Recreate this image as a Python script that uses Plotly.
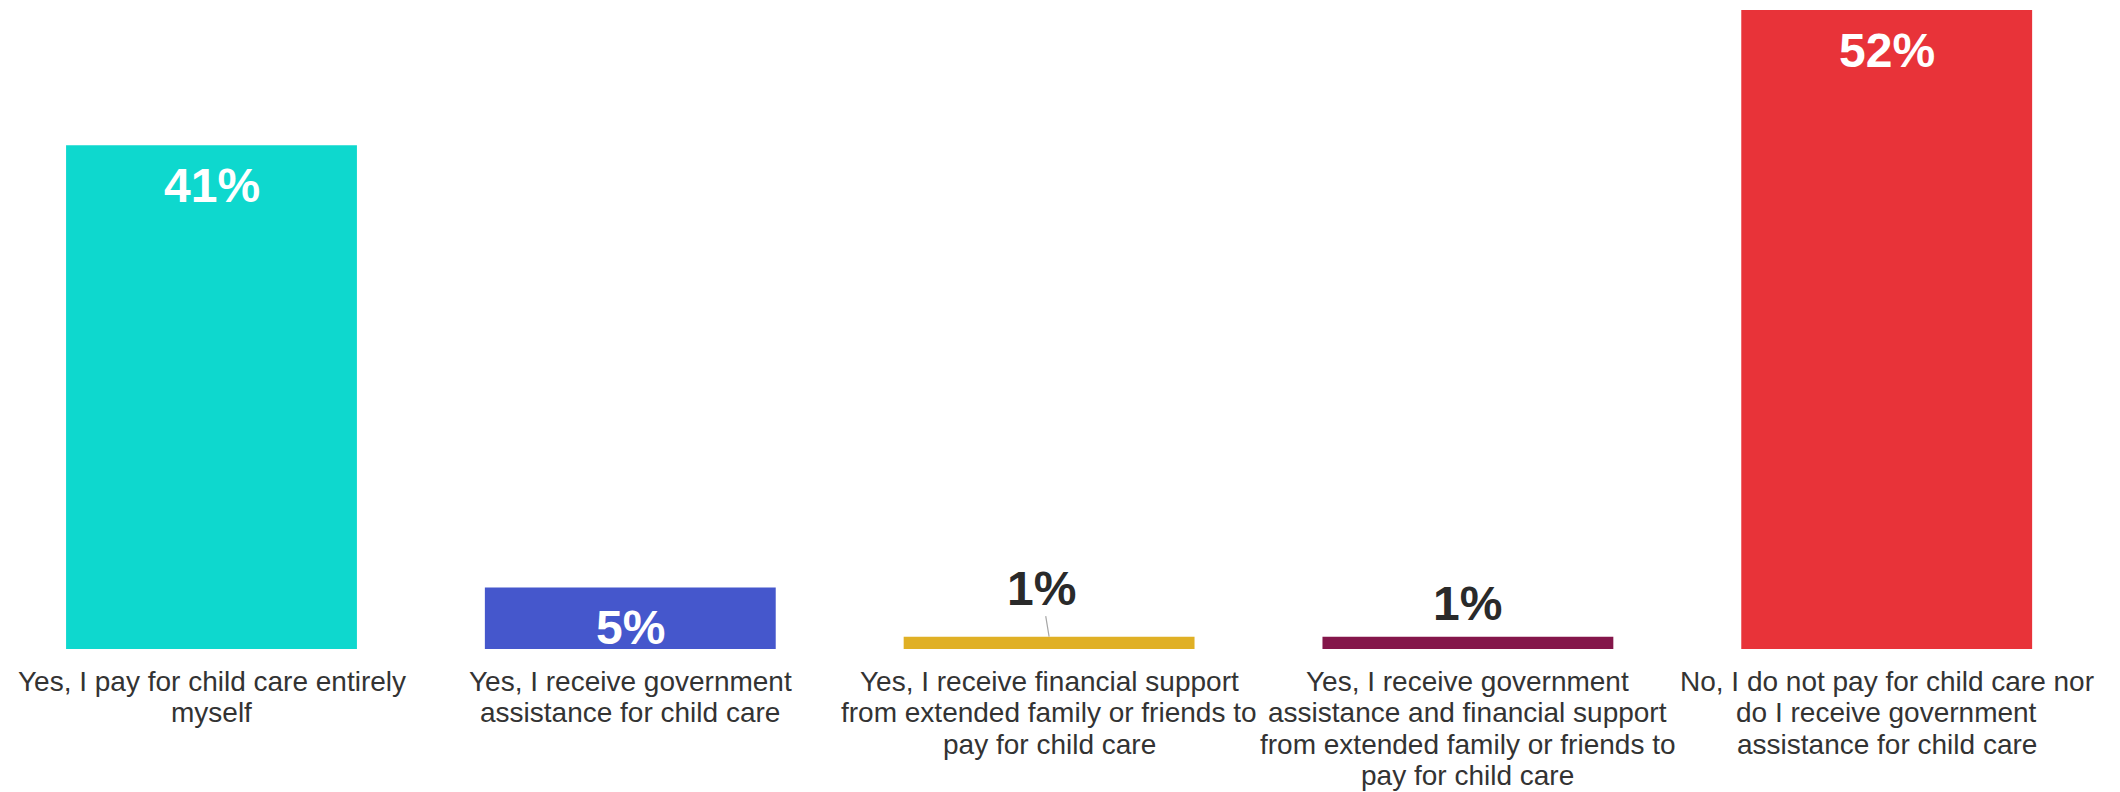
import plotly.graph_objects as go

categories = [
    "Yes, I pay for child care entirely<br>myself",
    "Yes, I receive government<br>assistance for child care",
    "Yes, I receive financial support<br>from extended family or friends to<br>pay for child care",
    "Yes, I receive government<br>assistance and financial support<br>from extended family or friends to<br>pay for child care",
    "No, I do not pay for child care nor<br>do I receive government<br>assistance for child care",
]
values = [41, 5, 1, 1, 52]
colors = ["#0ED8CE", "#4557CC", "#E0B025", "#84164A", "#E83339"]
label_inside = [True, True, False, False, True]

FONT = "Arial, Liberation Sans, sans-serif"

fig = go.Figure()
fig.add_trace(go.Bar(
    x=list(range(len(categories))),
    y=values,
    marker=dict(color=colors, line=dict(width=0)),
    hoverinfo="skip",
))

annotations = []
for i, (v, inside) in enumerate(zip(values, label_inside)):
    txt = f"{v}%"
    if inside:
        annotations.append(dict(
            x=i, y=v, xref="x", yref="y", text=txt, showarrow=False,
            yanchor="middle", xanchor="center", yshift=-40,
            font=dict(family=FONT, size=48, color="white", weight="bold"),
        ))
    elif i == 2:
        annotations.append(dict(
            x=i, y=v, xref="x", yref="y", text=txt, showarrow=True,
            ax=-8, ay=-48.5, arrowhead=0, arrowwidth=1.2, arrowcolor="#A6A6A6",
            standoff=0, startstandoff=0,
            font=dict(family=FONT, size=48, color="#2A2A2A", weight="bold"),
        ))
    else:
        annotations.append(dict(
            x=i, y=v, xref="x", yref="y", text=txt, showarrow=False,
            yanchor="middle", xanchor="center", yshift=33.5,
            font=dict(family=FONT, size=48, color="#2A2A2A", weight="bold"),
        ))

for i, cat in enumerate(categories):
    for k, line in enumerate(cat.split("<br>")):
        annotations.append(dict(
            x=i, y=0, xref="x", yref="y", text=line, showarrow=False,
            yanchor="middle", xanchor="center", yshift=-(32.1 + 31.5 * k),
            font=dict(family=FONT, size=28, color="#333333"),
        ))

slot_px = 418.8
x0 = -203.5 / slot_px
x1 = x0 + 2112 / slot_px

fig.update_layout(
    width=2112, height=784,
    margin=dict(l=0, r=0, t=2, b=143, pad=0),
    paper_bgcolor="white", plot_bgcolor="white",
    bargap=0.3055,
    showlegend=False,
    xaxis=dict(range=[x0, x1], showticklabels=False, showgrid=False,
               zeroline=False, showline=False, ticks=""),
    yaxis=dict(range=[0, 52], showticklabels=False, showgrid=False,
               zeroline=False, showline=False, ticks=""),
    annotations=annotations,
)

fig.write_html("out.html")
